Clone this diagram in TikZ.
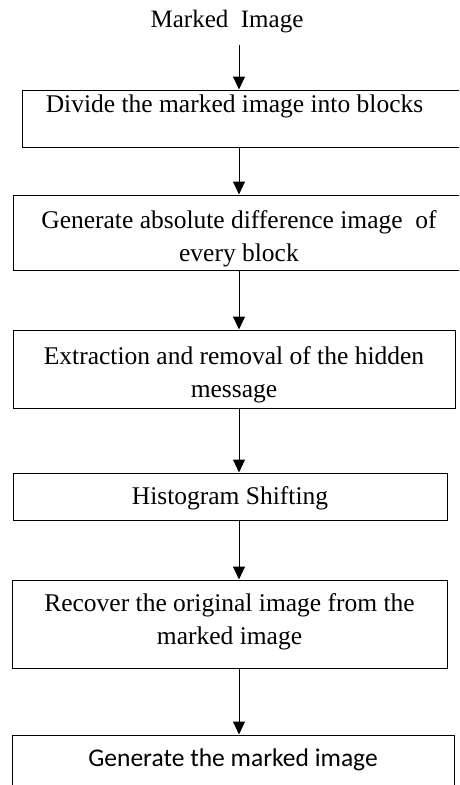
\documentclass[tikz,border=0pt]{standalone}
\usepackage{fontspec}
\setmainfont{Liberation Serif}
\newfontfamily\calibrifont{Carlito}
\usetikzlibrary{arrows.meta}

\begin{document}
\begin{tikzpicture}[x=1pt,y=-1pt,
	box/.style={draw, line width=1pt, inner sep=0pt, align=center,
		font=\fontsize{25.5}{33}\selectfont},
	flow/.style={line width=1pt, -{Triangle[width=12pt,length=13pt]}}]

\useasboundingbox (0,0) rectangle (459,785);
\clip (0,0) rectangle (459,785);

\coordinate (axis) at (239,0);

\node[font=\fontsize{25}{30}\selectfont, anchor=base] (src) at (227,27) {Marked\ \ Image};

% text height/depth only move the words inside each box
\node[box, minimum width=443pt, minimum height=57pt, text height=17.5pt, text depth=30.5pt] (b1) at (243.5,118.5)
	{Divide the marked image into blocks\hspace*{18pt}};
\node[box, minimum width=452pt, minimum height=75pt, text height=57pt, text depth=0pt] (b2) at (239,232.5)
	{Generate absolute difference image\ \ of\\every block};
\node[box, minimum width=442pt, minimum height=78pt, text height=56pt, text depth=0pt] (b3) at (234,369)
	{Extraction and removal of the hidden\\message};
\node[box, minimum width=434pt, minimum height=47pt, text height=17.5pt, text depth=2.5pt] (b4) at (230,496.5)
	{Histogram Shifting};
\node[box, minimum width=435pt, minimum height=88pt, text height=45pt, text depth=5pt] (b5) at (229.5,624)
	{Recover the original image from the\\marked image};
\node[box, minimum width=442pt, minimum height=54pt, text height=16pt, text depth=6.6pt,
	font=\calibrifont\fontsize{25.5}{30}\selectfont] (b6) at (233,762)
	{Generate the marked image};

\draw[flow, shorten <=9pt] (src.south -| axis) -- (b1.north -| axis);
\draw[flow] (b1.south -| axis) -- (b2.north -| axis);
\draw[flow] (b2.south -| axis) -- (b3.north -| axis);
\draw[flow] (b3.south -| axis) -- (b4.north -| axis);
\draw[flow] (b4.south -| axis) -- (b5.north -| axis);
\draw[flow] (b5.south -| axis) -- (b6.north -| axis);

\end{tikzpicture}
\end{document}
